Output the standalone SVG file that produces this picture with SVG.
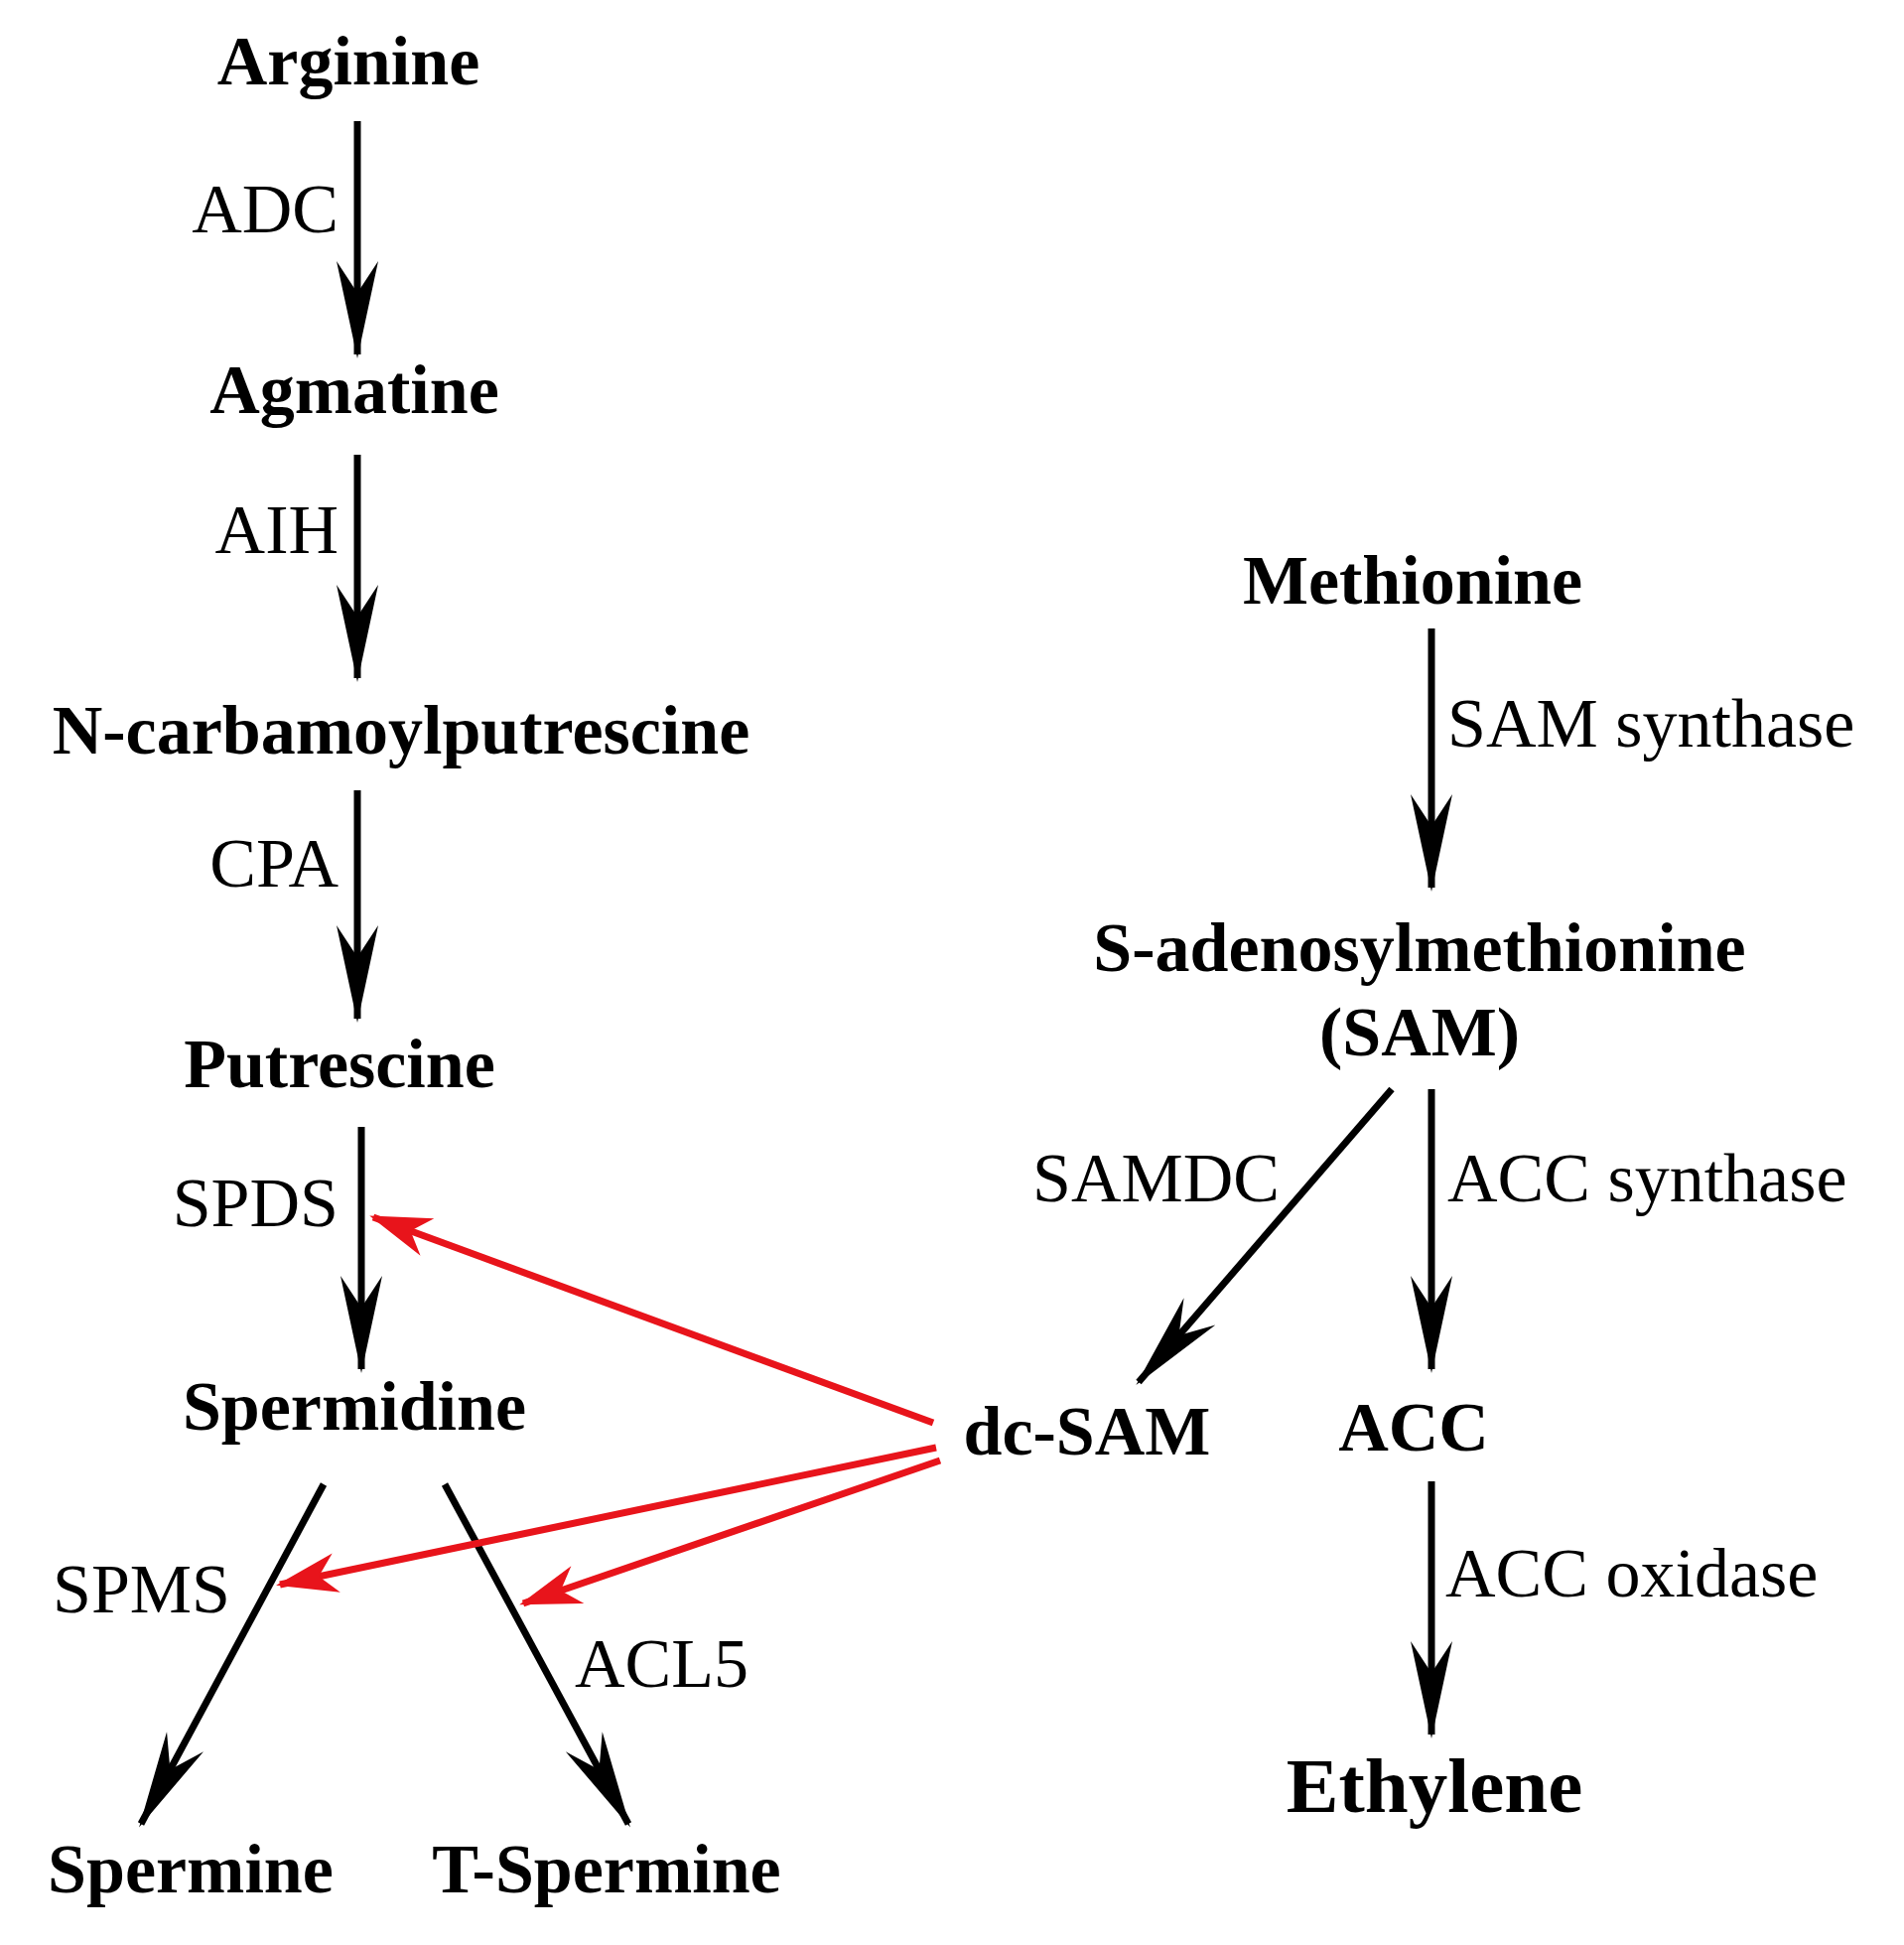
<svg xmlns="http://www.w3.org/2000/svg" width="1918" height="1959" viewBox="0 0 1918 1959">
<style>
text{font-family:"Liberation Serif","Times New Roman",serif;font-size:70px;fill:#000}
.b{font-weight:bold;text-anchor:middle}
.e{text-anchor:end}
.k{stroke:#000;stroke-width:7;fill:none;marker-end:url(#ah)}
.r{stroke:#e8141b;stroke-width:7;fill:none;marker-end:url(#rh)}
</style>
<defs>
<marker id="ah" markerUnits="userSpaceOnUse" markerWidth="120" markerHeight="60" viewBox="-100 -30 110 60" refX="0" refY="0" orient="auto">
<path d="M4,0 L-94,-21 L-62,0 L-94,21 Z" fill="#000"/>
</marker>
<marker id="rh" markerUnits="userSpaceOnUse" markerWidth="80" markerHeight="50" viewBox="-70 -25 80 50" refX="0" refY="0" orient="auto">
<path d="M4,0 L-58,-20 L-40,0 L-58,20 Z" fill="#e8141b"/>
</marker>
</defs>
<g id="connectors">
<path class="k" d="M360,122 L360,357"/>
<path class="k" d="M360,458 L360,683"/>
<path class="k" d="M360,796 L360,1026"/>
<path class="k" d="M364,1135 L364,1379"/>
<path class="k" d="M1442,633 L1442,894"/>
<path class="k" d="M1442,1097 L1442,1379"/>
<path class="k" d="M1442,1492 L1442,1747"/>
<path class="k" d="M1402,1097 L1147,1392"/>
<path class="k" d="M326,1495 L142,1837"/>
<path class="k" d="M448,1495 L633,1837"/>
<path class="r" d="M940,1433 L376,1226"/>
<path class="r" d="M943,1458 L282,1596"/>
<path class="r" d="M947,1471 L527,1615"/>
</g>
<g id="arginine"><text class="b" x="351" y="85">Arginine</text></g>
<g id="agmatine"><text class="b" x="357" y="416">Agmatine</text></g>
<g id="ncp"><text class="b" x="404" y="759">N-carbamoylputrescine</text></g>
<g id="putrescine"><text class="b" x="342" y="1095">Putrescine</text></g>
<g id="spermidine"><text class="b" x="357" y="1440">Spermidine</text></g>
<g id="spermine"><text class="b" x="192" y="1906">Spermine</text></g>
<g id="tspermine"><text class="b" x="611" y="1906">T-Spermine</text></g>
<g id="methionine"><text class="b" x="1423" y="608">Methionine</text></g>
<g id="sam"><text class="b" x="1430" y="978">S-adenosylmethionine</text><text class="b" x="1430" y="1063">(SAM)</text></g>
<g id="dcsam"><text class="b" x="1095" y="1465">dc-SAM</text></g>
<g id="acc"><text class="b" x="1424" y="1461">ACC</text></g>
<g id="ethylene"><text class="b" x="1445" y="1825" style="font-size:79px">Ethylene</text></g>
<g id="labels">
<text class="e" x="341" y="234">ADC</text>
<text class="e" x="341" y="557">AIH</text>
<text class="e" x="341" y="893">CPA</text>
<text class="e" x="341" y="1235">SPDS</text>
<text x="53" y="1624">SPMS</text>
<text x="579" y="1699">ACL5</text>
<text x="1458" y="752">SAM synthase</text>
<text class="e" x="1289" y="1210">SAMDC</text>
<text x="1458" y="1210">ACC synthase</text>
<text x="1456" y="1608">ACC oxidase</text>
</g>
</svg>
